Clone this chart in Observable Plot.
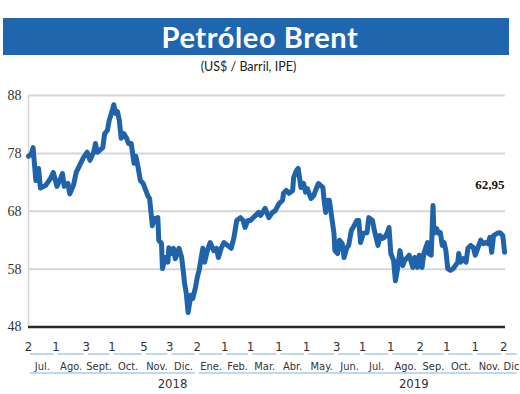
<!DOCTYPE html>
<html>
<head>
<meta charset="utf-8">
<script src="https://cdn.jsdelivr.net/npm/d3@7"></script>
<script src="https://cdn.jsdelivr.net/npm/@observablehq/plot@0.6"></script>
<style>
  html, body { margin: 0; padding: 0; background: #fff; }
  #wrap { position: relative; width: 520px; height: 394px; overflow: hidden; }
  #banner { position: absolute; left: 3px; top: 18px; width: 506px; height: 37px; background: #1f66ae;
    color: #fff; font-family: Lato, "Open Sans", sans-serif; font-weight: 700; font-size: 29px;
    line-height: 37px; text-align: center; letter-spacing: 0.6px; padding-left: 8px; box-sizing: border-box; }
  #sub { position: absolute; left: 0; top: 59px; width: 497px; text-align: center;
    font-family: Lato, "Open Sans", sans-serif; font-size: 12.5px; color: #222; }
  #chart { position: absolute; left: 0; top: 0; }
  #chart g.serif, #chart g.serif text { font-family: "Liberation Serif", "Times New Roman", "DejaVu Serif", serif !important; }
  #chart g.narrow, #chart g.narrow text { font-family: "Liberation Sans Narrow", "DejaVu Sans", sans-serif !important; font-stretch: condensed !important; }
</style>
</head>
<body>
<div id="wrap">
  <div id="chart"></div>
  <div id="banner">Petróleo Brent</div>
  <div id="sub">(US$ / Barril, IPE)</div>
</div>
<script>
// Days since 2018-07-02 and Brent price (US$/barrel)
const startDate = "2018-07-02";
const days = [0,3,5,8,11,13,19,24,27,31,35,37,39,43,45,49,52,57,60,64,67,71,73,75,81,83,86,88,92,93,95,97,99,101,104,107,109,112,115,117,119,122,125,130,132,135,137,141,142,145,146,149,152,153,156,158,160,164,167,169,170,172,174,177,179,182,184,186,190,192,195,198,202,205,207,210,213,217,221,224,227,231,234,236,239,242,245,251,253,258,262,266,269,273,277,278,281,284,288,289,292,294,297,300,302,304,308,311,313,316,321,322,324,326,328,330,333,334,337,339,342,344,347,349,352,354,358,360,362,365,369,371,375,377,381,383,386,388,391,393,395,398,400,402,405,408,410,413,415,419,421,424,426,429,431,433,435,436,439,441,442,445,447,449,451,453,455,457,460,463,468,469,471,474,477,479,482,485,487,490,493,496,498,501,503,505,507,511,514,517,519];
const prices = [77.5,77.9,79.0,73.3,75.4,72.0,72.5,73.7,74.7,72.3,73.7,74.5,72.3,72.8,71.0,72.5,74.7,76.3,77.3,78.2,76.8,78.2,79.7,78.2,79.0,81.4,82.0,83.7,85.8,86.4,84.9,85.2,83.7,80.6,81.4,80.6,79.7,79.7,76.3,77.5,76.0,73.3,72.8,70.7,70.2,65.5,66.7,66.9,63.0,62.4,58.1,60.0,59.2,61.7,60.7,61.6,59.8,61.6,60.0,57.3,55.7,53.8,50.5,53.5,52.9,54.8,56.6,57.8,61.6,59.2,61.2,62.6,61.2,61.6,60.0,61.6,62.6,62.1,61.6,63.5,66.4,66.9,66.4,65.2,66.4,66.4,66.9,67.8,67.3,68.5,66.9,67.8,68.1,69.3,69.9,71.1,71.6,71.1,71.6,73.8,75.0,75.4,72.1,72.8,71.3,71.9,70.2,70.7,71.6,72.8,72.1,70.2,67.8,69.9,69.9,67.6,64.2,61.2,60.7,63.0,62.4,60.0,61.7,62.1,64.7,65.2,66.4,66.4,62.6,64.2,64.3,66.9,66.4,64.7,62.1,63.8,63.3,63.5,64.2,65.2,60.7,59.5,56.0,57.8,61.2,58.6,59.5,60.0,60.4,58.3,60.0,58.3,60.4,58.3,60.7,61.7,62.6,60.7,60.4,69.0,64.2,65.0,64.2,64.3,62.1,62.6,61.2,58.1,57.8,58.1,59.2,60.7,59.2,59.8,59.2,61.6,62.1,61.7,60.4,61.7,63.0,62.4,62.6,62.4,63.5,60.9,63.8,64.2,64.3,63.8,60.9];
const lastLabel = "62,95";

const yTicks = [48, 58, 68, 78, 88];
const tickDates = ["2018-07-02","2018-08-01","2018-09-03","2018-10-01","2018-11-05","2018-12-03","2019-01-02","2019-02-01","2019-03-01","2019-04-01","2019-05-01","2019-06-03","2019-07-01","2019-08-01","2019-09-02","2019-10-01","2019-11-01","2019-12-02"];
const tickLabels = ["2","1","3","1","5","3","2","1","1","1","1","3","1","1","2","1","1","2"];
const monthLabels = ["Jul.","Ago.","Sept.","Oct.","Nov.","Dic.","Ene.","Feb.","Mar.","Abr.","May.","Jun.","Jul.","Ago.","Sep.","Oct.","Nov.","Dic"];
const monthEndLast = "2019-12-19";
const years = ["2018", "2019"];
const yearSpans = [["2018-07-02","2019-01-02"],["2019-01-02","2019-12-19"]];
const yearLabelDates = ["2018-12-06","2019-08-26"];

const parse = d3.utcParse("%Y-%m-%d");
const t0 = parse(startDate);
const data = days.map((d, i) => ({date: d3.utcDay.offset(t0, d), value: prices[i]}));
const ticks = tickDates.map((d, i) => ({date: parse(d), label: tickLabels[i]}));
const months = monthLabels.map((m, i) => {
  const a = parse(tickDates[i]);
  const b = parse(i + 1 < tickDates.length ? tickDates[i + 1] : monthEndLast);
  return {label: m, start: a, end: b, mid: new Date((+a + +b) / 2)};
});
const yearRows = years.map((y, i) => ({label: y, start: parse(yearSpans[i][0]), end: parse(yearSpans[i][1]), at: parse(yearLabelDates[i])}));
const last = data[data.length - 1];

const blue = "#1f63aa";
const pale = "#a9cbe9";

const chart = Plot.plot({
  width: 520,
  height: 394,
  marginTop: 95,
  marginBottom: 67.5,
  marginLeft: 28,
  marginRight: 15,
  style: {background: "transparent", overflow: "visible"},
  x: {type: "utc", domain: [parse("2018-07-02"), parse("2019-12-04")], axis: null},
  y: {domain: [48, 88], axis: null},
  marks: [
    Plot.ruleY([58, 68, 78, 88], {stroke: "#d6d6d6", strokeWidth: 2}),
    Plot.ruleX([parse("2018-07-02")], {stroke: "#d6d6d6", strokeWidth: 1.5}),
    Plot.text(yTicks, {y: d => d, frameAnchor: "left", dx: -7, textAnchor: "end", text: d => String(d),
      className: "serif", fontSize: 14, fill: "#333"}),
    Plot.line(data, {x: "date", y: "value", stroke: blue, strokeWidth: 5, strokeLinejoin: "round", strokeLinecap: "round"}),
    Plot.ruleY([48], {stroke: "#2a2a2a", strokeWidth: 2.5}),
    Plot.text([last], {x: "date", y: "value", text: () => lastLabel, textAnchor: "end", dy: -68,
      className: "serif", fontWeight: "bold", fontSize: 13, fill: "#111"}),
    Plot.text(ticks, {x: "date", y: () => 48, dy: 20, text: "label", className: "narrow", fontSize: 13, fill: "#333"}),
    Plot.ruleY(months, {x1: "start", x2: "end", y: () => 48, dy: 27, insetLeft: 2, insetRight: 2, stroke: pale, strokeWidth: 1.5}),
    Plot.text(months, {x: "mid", y: () => 48, dy: 39, text: "label", className: "narrow", fontSize: 11, fill: "#333"}),
    Plot.ruleY(yearRows, {x1: "start", x2: "end", y: () => 48, dy: 46, insetLeft: 2, insetRight: 2, stroke: pale, strokeWidth: 1.5}),
    Plot.text(yearRows, {x: "at", y: () => 48, dy: 57, text: "label", className: "narrow", fontSize: 13, fill: "#333"})
  ]
});
document.getElementById("chart").appendChild(chart);
</script>
</body>
</html>
